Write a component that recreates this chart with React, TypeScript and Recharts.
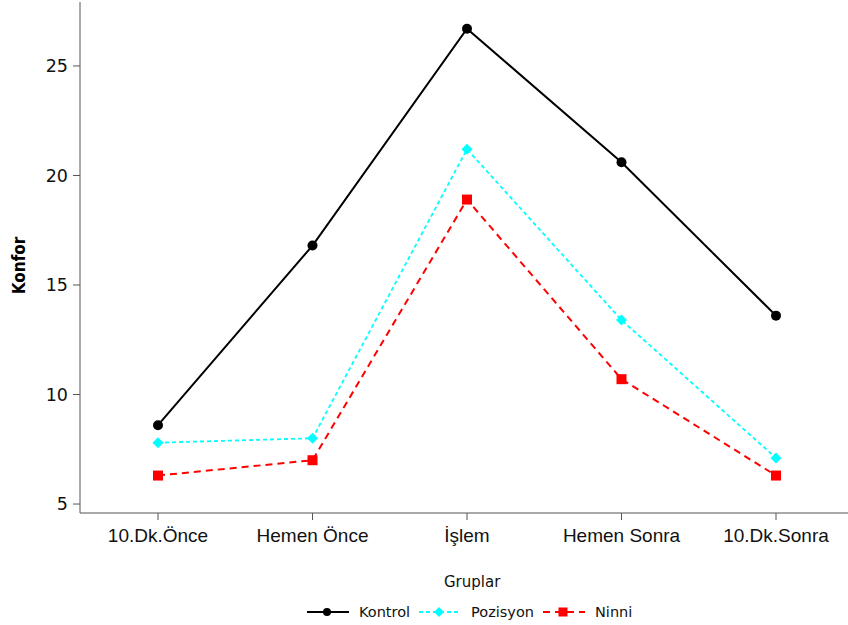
import { Legend, Line, LineChart, XAxis, YAxis } from "recharts";

const categories = ["10.Dk.Önce", "Hemen Önce", "İşlem", "Hemen Sonra", "10.Dk.Sonra"];
const kontrol = [8.6, 16.8, 26.7, 20.6, 13.6];
const pozisyon = [7.8, 8.0, 21.2, 13.4, 7.1];
const ninni = [6.3, 7.0, 18.9, 10.7, 6.3];
const yTicks = [5, 10, 15, 20, 25];

const data = categories.map((c, i) => ({
  name: c,
  Kontrol: kontrol[i],
  Pozisyon: pozisyon[i],
  Ninni: ninni[i],
}));

const AXIS = "#555";
const TICK_FONT = "'DejaVu Sans', Tahoma, sans-serif";

const CircleDot = (p: any) => (
  <circle key={`c-${p.index}`} cx={p.cx} cy={p.cy} r={5} fill="#000" />
);
const DiamondDot = (p: any) => (
  <polygon
    key={`d-${p.index}`}
    points={`${p.cx},${p.cy - 5.5} ${p.cx + 5.5},${p.cy} ${p.cx},${p.cy + 5.5} ${p.cx - 5.5},${p.cy}`}
    fill="#00ffff"
  />
);
const SquareDot = (p: any) => (
  <rect key={`s-${p.index}`} x={p.cx - 5} y={p.cy - 5} width={10} height={10} fill="#ff0000" />
);

const legendItems = [
  { label: "Kontrol", color: "#000", dash: undefined, width: 2, marker: "circle" },
  { label: "Pozisyon", color: "#00ffff", dash: "4 3", width: 1.8, marker: "diamond" },
  { label: "Ninni", color: "#ff0000", dash: "7 5", width: 2, marker: "square" },
];

function LegendBox() {
  return (
    <div style={{ height: 60, fontFamily: TICK_FONT, color: "#111", position: "relative" }}>
      <div style={{ position: "absolute", left: 444, top: 8, fontSize: 15 }}>Gruplar</div>
      <div style={{ position: "absolute", left: 306, top: 39, display: "flex", alignItems: "center" }}>
        {legendItems.map((it) => (
          <div key={it.label} style={{ display: "flex", alignItems: "center", marginRight: 8 }}>
            <svg width={44} height={14}>
              <line x1={1} y1={7} x2={43} y2={7} stroke={it.color} strokeWidth={it.width} strokeDasharray={it.dash} />
              {it.marker === "circle" && <circle cx={21} cy={7} r={4} fill={it.color} />}
              {it.marker === "diamond" && <polygon points="21,2 26,7 21,12 16,7" fill={it.color} />}
              {it.marker === "square" && <rect x={16.5} y={2.5} width={9} height={9} fill={it.color} />}
            </svg>
            <span style={{ fontSize: 14.5, marginLeft: 9, width: it.label === "Ninni" ? 40 : undefined }}>{it.label}</span>
          </div>
        ))}
      </div>
    </div>
  );
}

export default function App() {
  return (
    <div style={{ position: "absolute", left: 0, top: 0, background: "#fff" }}>
      <LineChart width={848} height={625} data={data} margin={{ top: 2, right: 0, bottom: 0, left: 0 }}>
        <XAxis
          dataKey="name"
          type="category"
          padding={{ left: 78, right: 72 }}
          height={52}
          stroke={AXIS}
          tickSize={7}
          tick={{ fill: "#111", fontSize: 19, fontFamily: "'Liberation Sans', Arial, sans-serif" }}
          tickMargin={9}
        />
        <YAxis
          type="number"
          domain={[4.59, 27.92]}
          ticks={yTicks}
          allowDataOverflow
          width={80}
          stroke={AXIS}
          tickSize={7}
          tickMargin={5}
          tick={{ fill: "#111", fontSize: 17.5, fontFamily: TICK_FONT }}
          label={{
            value: "Konfor",
            angle: -90,
            position: "insideLeft",
            offset: 19,
            dy: 8,
            style: {
              fontWeight: "bold",
              fontSize: 17,
              fill: "#000",
              fontFamily: "'DejaVu Sans Condensed', 'DejaVu Sans', sans-serif",
              textAnchor: "middle",
            },
          }}
        />
        <Legend verticalAlign="bottom" height={60} content={() => <LegendBox />} />
        <Line
          dataKey="Kontrol"
          stroke="#000"
          strokeWidth={2}
          dot={CircleDot}
          activeDot={false}
          isAnimationActive={false}
        />
        <Line
          dataKey="Pozisyon"
          stroke="#00ffff"
          strokeWidth={1.8}
          strokeDasharray="4 3"
          dot={DiamondDot}
          activeDot={false}
          isAnimationActive={false}
        />
        <Line
          dataKey="Ninni"
          stroke="#ff0000"
          strokeWidth={2}
          strokeDasharray="7 5"
          dot={SquareDot}
          activeDot={false}
          isAnimationActive={false}
        />
      </LineChart>
    </div>
  );
}
